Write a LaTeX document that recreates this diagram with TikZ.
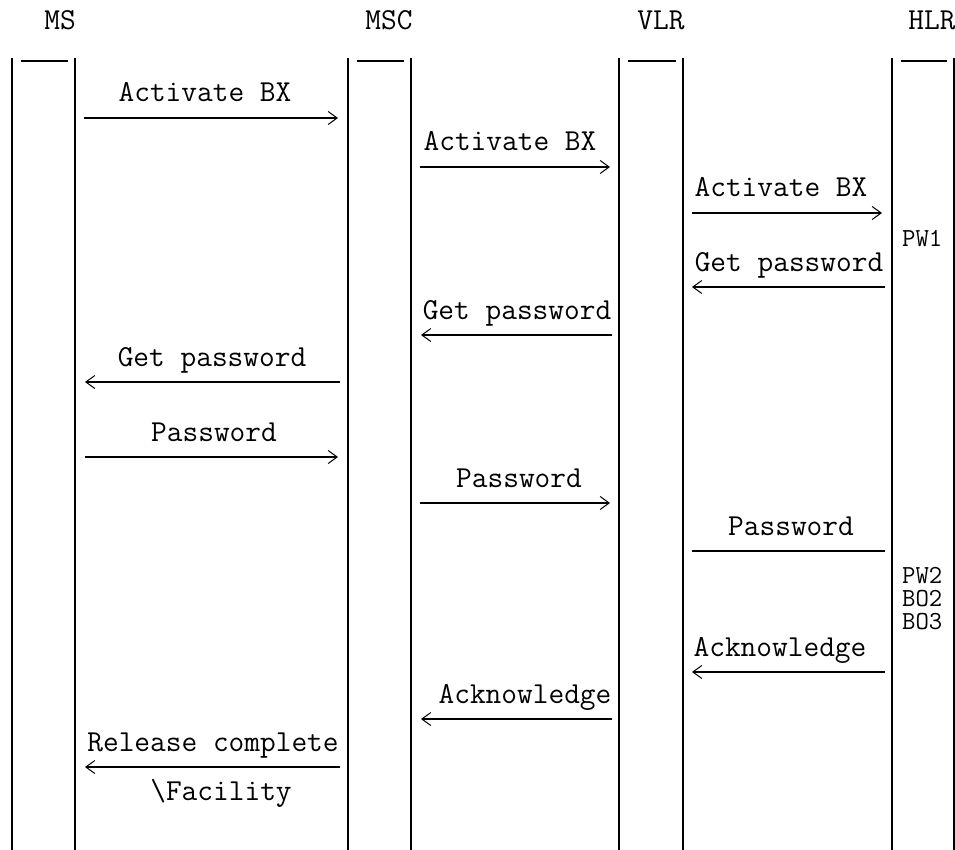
\documentclass[tikz,border=0pt]{standalone}
\usepackage{fontspec}
\usetikzlibrary{arrows.meta}
\tikzset{
  lbl/.style={font=\fontsize{30.5}{34}\selectfont\ttfamily, inner sep=0pt, anchor=base},
  side/.style={font=\fontsize{26}{23}\selectfont\ttfamily, inner sep=0pt, anchor=base west},
  msg/.style={line width=1.4pt, -{Straight Barb[length=9pt,width=13pt,line width=1pt]}},
  plainmsg/.style={line width=1.4pt},
  life/.style={line width=1.6pt},
}
\begin{document}
\begin{tikzpicture}[x=1pt,y=-1pt]
\fill[white] (0,0) rectangle (955,850);
\useasboundingbox (0,0) rectangle (955,850);

% headers
\node[lbl] (hms) at (60,30) {MS};
\node[lbl] (hmsc) at (389,30) {MSC};
\node[lbl] (hvlr) at (661,30) {VLR};
\node[lbl] (hhlr) at (932,30) {HLR};

% lifelines
\foreach \n/\l/\r in {ms/12/75, msc/348/411, vlr/619/683, hlr/892/954}{
  \coordinate (\n-lt) at (\l,58);
  \coordinate (\n-lb) at (\l,850);
  \coordinate (\n-rt) at (\r,58);
  \coordinate (\n-rb) at (\r,850);
  \coordinate (\n-bl) at (\l+8.5,61);
  \coordinate (\n-br) at (\r-7,61);
  \draw[life] (\n-lt) -- (\n-lb);
  \draw[life] (\n-rt) -- (\n-rb);
  \draw[life] (\n-bl) -- (\n-br);
}

% 1 Activate BX MS->MSC
\coordinate (m1a) at (84,118); \coordinate (m1b) at (338,118);
\draw[msg] (m1a) -- (m1b);
\node[lbl] (t1) at (205,102) {Activate BX};
% 2 Activate BX MSC->VLR
\coordinate (m2a) at (420,167); \coordinate (m2b) at (610,167);
\draw[msg] (m2a) -- (m2b);
\node[lbl] (t2) at (510,151) {Activate BX};
% 3 Activate BX VLR->HLR
\coordinate (m3a) at (692,213); \coordinate (m3b) at (882,213);
\draw[msg] (m3a) -- (m3b);
\node[lbl] (t3) at (781,197) {Activate BX};
% PW1
\node[side] (pw1) at (902,247) {PW1};
% 5 Get password HLR->VLR
\coordinate (m5a) at (885,287); \coordinate (m5b) at (692,287);
\draw[msg] (m5a) -- (m5b);
\node[lbl] (t5) at (789,271) {Get password};
% 6 Get password VLR->MSC
\coordinate (m6a) at (612,335); \coordinate (m6b) at (421,335);
\draw[msg] (m6a) -- (m6b);
\node[lbl] (t6) at (517,319) {Get password};
% 7 Get password MSC->MS
\coordinate (m7a) at (340,382); \coordinate (m7b) at (85,382);
\draw[msg] (m7a) -- (m7b);
\node[lbl] (t7) at (212,366) {Get password};
% 8 Password MS->MSC
\coordinate (m8a) at (85,457); \coordinate (m8b) at (338,457);
\draw[msg] (m8a) -- (m8b);
\node[lbl] (t8) at (214,441) {Password};
% 9 Password MSC->VLR
\coordinate (m9a) at (420,503); \coordinate (m9b) at (610,503);
\draw[msg] (m9a) -- (m9b);
\node[lbl] (t9) at (519,487) {Password};
% 10 Password VLR->HLR (no head)
\coordinate (m10a) at (692,551); \coordinate (m10b) at (885,551);
\draw[plainmsg] (m10a) -- (m10b);
\node[lbl] (t10) at (791,535) {Password};
% PW2 BO2 BO3
\node[side, anchor=north west, align=left] (pwbo) at (902,567) {PW2\\BO2\\BO3};
% 12 Acknowledge HLR->VLR
\coordinate (m12a) at (885,672); \coordinate (m12b) at (692,672);
\draw[msg] (m12a) -- (m12b);
\node[lbl] (t12) at (780,656) {Acknowledge};
% 13 Acknowledge VLR->MSC
\coordinate (m13a) at (612,719); \coordinate (m13b) at (421,719);
\draw[msg] (m13a) -- (m13b);
\node[lbl] (t13) at (525,703) {Acknowledge};
% 14 Release complete MSC->MS
\coordinate (m14a) at (340,767); \coordinate (m14b) at (85,767);
\draw[msg] (m14a) -- (m14b);
\node[lbl] (t14) at (213,751) {Release complete};
\node[lbl] (t14b) at (221,800) {\textbackslash Facility};
\end{tikzpicture}
\end{document}
